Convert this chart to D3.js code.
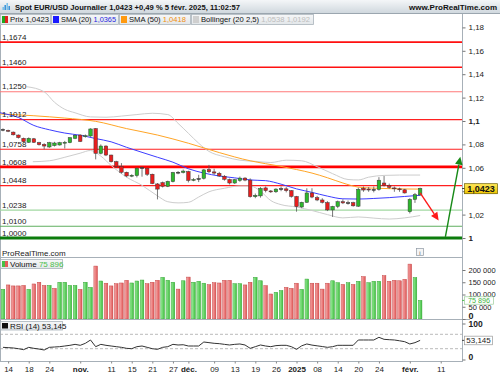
<!DOCTYPE html>
<html><head><meta charset="utf-8">
<script src="https://cdn.jsdelivr.net/npm/d3@7"></script>
<style>
html,body{margin:0;padding:0;background:#fff;}
svg{display:block;font-family:"Liberation Sans",Arial,sans-serif;}
</style></head><body>
<svg id="c" width="500" height="375"></svg>
<script>
// ---------------- DATA ----------------
const dates = ["2024-10-11","2024-10-14","2024-10-15","2024-10-16","2024-10-17","2024-10-18","2024-10-21","2024-10-22","2024-10-23","2024-10-24",
"2024-10-25","2024-10-28","2024-10-29","2024-10-30","2024-10-31","2024-11-01","2024-11-04","2024-11-05","2024-11-06","2024-11-07",
"2024-11-08","2024-11-11","2024-11-12","2024-11-13","2024-11-14","2024-11-15","2024-11-18","2024-11-19","2024-11-20","2024-11-21",
"2024-11-22","2024-11-25","2024-11-26","2024-11-27","2024-11-28","2024-11-29","2024-12-02","2024-12-03","2024-12-04","2024-12-05",
"2024-12-06","2024-12-09","2024-12-10","2024-12-11","2024-12-12","2024-12-13","2024-12-16","2024-12-17","2024-12-18","2024-12-19",
"2024-12-20","2024-12-23","2024-12-24","2024-12-26","2024-12-27","2024-12-30","2024-12-31","2025-01-02","2025-01-03","2025-01-06",
"2025-01-07","2025-01-08","2025-01-09","2025-01-10","2025-01-13","2025-01-14","2025-01-15","2025-01-16","2025-01-17","2025-01-20",
"2025-01-21","2025-01-22","2025-01-23","2025-01-24","2025-01-27","2025-01-28","2025-01-29","2025-01-30","2025-01-31","2025-02-03",
"2025-02-04","2025-02-05","2025-02-06","2025-02-07","2025-02-10","2025-02-11","2025-02-12","2025-02-13","2025-02-14","2025-02-17"];

const open = [1.0925,1.0920,1.0905,1.0880,1.0852,1.0818,1.0848,1.0815,1.0800,1.0778,
1.0790,1.0795,1.0812,1.0815,1.0852,1.0880,1.0866,1.0872,1.0935,1.0724,
1.0786,1.0709,1.0652,1.0612,1.0562,1.0530,1.0534,1.0602,1.0596,1.0545,
1.0462,1.0473,1.0442,1.0482,1.0562,1.0560,1.0568,1.0494,1.0504,1.0510,
1.0585,1.0565,1.0553,1.0528,1.0500,1.0470,1.0492,1.0512,1.0495,1.0353,
1.0360,1.0428,1.0402,1.0395,1.0418,1.0420,1.0405,1.0355,1.0265,1.0305,
1.0385,1.0345,1.0325,1.0303,1.0240,1.0270,1.0310,1.0298,1.0302,1.0272,
1.0425,1.0418,1.0412,1.0415,1.0470,1.0448,1.0428,1.0420,1.0412,1.0225,
1.0330,1.0368];
const high = [1.0937,1.0926,1.0910,1.0885,1.0858,1.0860,1.0855,1.0822,1.0810,1.0822,
1.0822,1.0822,1.0830,1.0862,1.0885,1.0886,1.0885,1.0937,1.0940,1.0800,
1.0792,1.0712,1.0660,1.0640,1.0567,1.0545,1.0605,1.0610,1.0602,1.0550,
1.0470,1.0482,1.0490,1.0565,1.0572,1.0585,1.0575,1.0512,1.0540,1.0590,
1.0625,1.0592,1.0565,1.0538,1.0508,1.0505,1.0525,1.0520,1.0510,1.0380,
1.0435,1.0440,1.0410,1.0425,1.0440,1.0435,1.0410,1.0360,1.0310,1.0425,
1.0425,1.0360,1.0340,1.0315,1.0275,1.0320,1.0330,1.0320,1.0310,1.0430,
1.0440,1.0435,1.0440,1.0520,1.0530,1.0465,1.0440,1.0430,1.0420,1.0340,
1.0385,1.0430];
const low = [1.0912,1.0905,1.0876,1.0850,1.0815,1.0812,1.0812,1.0790,1.0758,1.0770,
1.0782,1.0790,1.0765,1.0810,1.0845,1.0820,1.0858,1.0865,1.0672,1.0715,
1.0700,1.0645,1.0600,1.0550,1.0520,1.0520,1.0518,1.0524,1.0530,1.0460,
1.0330,1.0432,1.0435,1.0475,1.0545,1.0552,1.0475,1.0485,1.0478,1.0500,
1.0555,1.0540,1.0522,1.0490,1.0458,1.0462,1.0480,1.0485,1.0345,1.0340,
1.0345,1.0390,1.0385,1.0385,1.0400,1.0390,1.0345,1.0225,1.0255,1.0300,
1.0340,1.0315,1.0295,1.0230,1.0180,1.0255,1.0290,1.0285,1.0268,1.0265,
1.0395,1.0395,1.0390,1.0405,1.0440,1.0420,1.0395,1.0395,1.0380,1.0210,
1.0300,1.0360];
const close = [1.0928,1.0913,1.0882,1.0858,1.0823,1.0852,1.0818,1.0798,1.0786,1.0815,
1.0812,1.0815,1.0818,1.0857,1.0878,1.0825,1.0874,1.0932,1.0724,1.0786,
1.0709,1.0652,1.0612,1.0562,1.0530,1.0536,1.0596,1.0598,1.0545,1.0465,
1.0418,1.0442,1.0484,1.0560,1.0558,1.0572,1.0492,1.0500,1.0508,1.0582,
1.0566,1.0555,1.0530,1.0502,1.0470,1.0498,1.0512,1.0495,1.0353,1.0365,
1.0424,1.0405,1.0397,1.0418,1.0422,1.0405,1.0355,1.0268,1.0305,1.0385,
1.0350,1.0325,1.0305,1.0240,1.0270,1.0310,1.0300,1.0302,1.0275,1.0416,
1.0410,1.0413,1.0415,1.0494,1.0448,1.0432,1.0422,1.0412,1.0385,1.0330,
1.0370,1.0423];
const volume = [121000,139000,135000,135000,137000,121000,143000,150000,137000,137000,
125000,150000,150000,137000,137000,121000,150000,129000,216000,155000,
146000,135000,144000,147000,158000,147000,155000,159000,144000,150000,
158000,170000,158000,150000,122000,156000,171000,150000,154000,146000,
140000,148000,147000,158000,158000,144000,144000,139000,150000,170000,
156000,136000,102000,109000,116000,129000,125000,146000,121000,163000,
146000,146000,122000,146000,156000,148000,141000,148000,141000,154000,
173000,148000,154000,154000,177000,154000,158000,156000,162000,224000,
169000,75896];
const rsi = [33.8,32.9,32,30,27.3,33.8,31,29,26.4,33.8,
34.7,35.6,37.5,39.4,42.1,39.4,45,54.2,35.6,42.1,
39.4,37.5,35.6,33.8,31,30,35.6,37.5,33.8,30,
28.2,33.8,35.6,42.1,40.3,41,37.5,37.5,37.5,48.6,
46.8,45,44,42.1,40.3,42.1,43.1,40.3,31,35.6,
40.3,37.5,35.6,38.5,39.4,39.4,35.6,28.2,38,43.1,
40,38,36,33.8,35.6,39.4,39.4,39.4,39.4,54.2,
54.2,54.2,54.2,61.6,56,55,54.2,52,49.5,43.1,
46.8,53.145];

// indicator lines (bar index, value)
const sma20Idx = [-0.6,0,3,6,9,12,15,18,21,24,27,30,33,36,39,42,45,48,51,54,57,60,63,66,69,72,75,78,81];
const sma20 = [1.1071,1.1065,1.1030,1.0962,1.0925,1.0897,1.0878,1.0850,1.0822,1.0775,1.0732,1.0690,1.0648,1.0592,1.0555,1.0530,1.0514,1.0496,1.0490,1.0460,1.0420,1.0390,1.0358,1.0335,1.0333,1.0338,1.0345,1.0355,1.0365];
const sma50Idx = [-0.6,6,12,18,24,30,36,42,48,51,54,57,60,63,66,69,72,75,78,81];
const sma50 = [1.1060,1.1045,1.1025,1.0997,1.0935,1.0880,1.0810,1.0730,1.0660,1.0635,1.0612,1.0585,1.0555,1.0515,1.0470,1.0435,1.0426,1.0422,1.0419,1.0418];
const bbUpIdx = [4.6,8,10,12,14,17,20,23,26,29,32,34,36,38,40,43,46,49,52,55,58,61,64,67,69,71,74,77,81];
const bbUp = [1.1293,1.1250,1.1160,1.1100,1.1070,1.1035,1.1032,1.1042,1.1055,1.1066,1.1055,1.0980,1.0895,1.0810,1.0740,1.0695,1.0665,1.0655,1.0645,1.0665,1.0660,1.0610,1.0550,1.0500,1.0496,1.0520,1.0535,1.0538,1.0538];
const bbLoIdx = [5.8,9,12,15,17,19,21,24,27,30,32,34,36,38,40,43,46,48,50,52,54,57,60,63,66,69,72,75,78,81];
const bbLo = [1.0652,1.0660,1.0690,1.0725,1.0748,1.0700,1.0620,1.0520,1.0450,1.0360,1.0310,1.0300,1.0305,1.0350,1.0395,1.0425,1.0445,1.0445,1.0400,1.0320,1.0285,1.0265,1.0235,1.0200,1.0172,1.0180,1.0170,1.0162,1.0172,1.0192];

// horizontal levels
const levelValues = [1.1674,1.1460,1.1250,1.1012,1.0758,1.0608,1.0448,1.0238,1.0100,1.0000];
const levelLabels = ["1,1674","1,1460","1,1250","1,1012","1,0758","1,0608","1,0448","1,0238","1,0100","1,0000"];
const levelKinds = ["resStrong","resStrong","resLight","res","res","resKey","res","supLight","sup","supKey"];

// arrows drawn on the chart (bar index, price)
const arrowFrom = [[81,1.0385],[85.9,1.0010]];
const arrowTo = [[84.6,1.0150],[88.8,1.0695]];
const arrowKinds = ["down","up"];

// axes
const priceTicks = [1.18,1.16,1.14,1.12,1.1,1.08,1.06,1.04,1.02,1];
const priceTickLabels = ["1,18","1,16","1,14","1,12","1,1","1,08","1,06","1,04","1,02","1"];
const volTicks = [200000,150000,100000,50000,0];
const volTickLabels = ["200 000","150 000","100 000","50 000","0"];
const rsiTicks = [100,0];
const rsiGuides = [70,30];
const xTickDates = ["2024-10-14","2024-10-18","2024-10-24","2024-11-01","2024-11-11","2024-11-15","2024-11-21","2024-11-27","2024-12-02","2024-12-09","2024-12-13","2024-12-19","2024-12-26","2025-01-02","2025-01-08","2025-01-14","2025-01-20","2025-01-24","2025-02-03","2025-02-11"];
const xTickLabels = ["14","18","24","nov.","11","15","21","27","déc.","09","13","19","26","2025","08","14","20","24","févr.","11"];
const xTickMajor = [false,false,false,true,false,false,false,false,true,false,false,false,false,true,false,false,false,false,true,false];

// header texts
const titleText = "Spot EUR/USD Journalier 1,0423 +0,49 % 5 févr. 2025, 11:02:57";
const lastPrice = "1,0423", lastVolume = "75 896", lastRsi = "53,145";
const sma20Last = "1,0365", sma50Last = "1,0418", bbLast = "1,0538 1,0192";

// ---------------- DRAW ----------------
const svg = d3.select("#c");
const PR = 462;
const x = d3.scaleLinear().domain([-0.5, 89.5]).range([0.4, 463.9]);
const y = d3.scaleLinear().domain([1, 1.18]).range([238, 27.4]);
const yV = d3.scaleLinear().domain([0, 200000]).range([319, 270]);
const yR = d3.scaleLinear().domain([0, 100]).range([359.5, 323.5]);
const idxOf = d => dates.indexOf(d);

const defs = svg.append("defs");
function grad(id, c1, c2, horiz){
  const g = defs.append("linearGradient").attr("id",id).attr("x1",0).attr("y1",0).attr("x2",horiz?1:0).attr("y2",horiz?0:1);
  g.append("stop").attr("offset",0).attr("stop-color",c1);
  g.append("stop").attr("offset",1).attr("stop-color",c2);
}
grad("hdr","#f4f6f8","#d0d8de");
grad("leg","#f6f7f8","#e2e6e9");
grad("yel","#ffe95a","#eec400");
grad("vg","#9cec9c","#3fbf3f",true);
grad("vr","#f7a8a8","#de5656",true);
function clip(id,x0,y0,w,h){defs.append("clipPath").attr("id",id).append("rect").attr("x",x0).attr("y",y0).attr("width",w).attr("height",h);}
clip("cp",0,25,PR,232);
clip("cv",0,258,PR,61);
clip("cr",0,320,PR,41);

// header
svg.append("rect").attr("x",0).attr("y",0).attr("width",500).attr("height",13).attr("fill","url(#hdr)");
svg.append("line").attr("x1",0).attr("x2",500).attr("y1",13.5).attr("y2",13.5).attr("stroke","#9ba6af");
const icon = svg.append("g");
[[2.5,7],[4.5,5],[6.5,3],[8.5,6]].forEach(([ix,iy],k)=>{
  icon.append("rect").attr("x",ix).attr("y",iy).attr("width",1.4).attr("height",10-iy).attr("fill",k%2?"#2a8ad8":"#6fbbe8");
});
svg.append("text").attr("x",15).attr("y",9.6).attr("font-size",8).attr("font-weight","bold").attr("fill","#111")
  .attr("textLength",225).attr("lengthAdjust","spacingAndGlyphs").text(titleText);
svg.append("text").attr("x",497).attr("y",9.6).attr("font-size",8).attr("font-weight","bold").attr("fill","#111")
  .attr("text-anchor","end").text("www.ProRealTime.com");

// legend row
const legItems = [
  {x:0,w:50,tl:39,icon:"pr",parts:[["Prix "+lastPrice,"#111"]]},
  {x:51,w:67,tl:55,icon:"#1a1aff",parts:[["SMA (20) ","#111"],[sma20Last,"#2525e0"]]},
  {x:119,w:71,tl:57,icon:"#ff9a10",parts:[["SMA (50) ","#111"],[sma50Last,"#f09010"]]},
  {x:191,w:122,tl:109,icon:"#cfcfcf",parts:[["Bollinger (20 2,5) ","#111"],[bbLast,"#bdbdbd"]]}
];
legItems.forEach(it=>{
  const g = svg.append("g");
  g.append("rect").attr("x",it.x+0.5).attr("y",14.5).attr("width",it.w).attr("height",10).attr("fill","url(#leg)").attr("stroke","#aab3bb").attr("stroke-width",0.8);
  if(it.icon==="pr"){
    g.append("rect").attr("x",it.x+2).attr("y",16).attr("width",3).attr("height",7).attr("fill","#1fa81f");
    g.append("rect").attr("x",it.x+5).attr("y",16).attr("width",3).attr("height",7).attr("fill","#e02020");
  } else {
    g.append("rect").attr("x",it.x+2).attr("y",16).attr("width",6).attr("height",7).attr("fill",it.icon);
  }
  const t = g.append("text").attr("x",it.x+10).attr("y",22).attr("font-size",8)
    .attr("textLength",it.tl).attr("lengthAdjust","spacingAndGlyphs");
  it.parts.forEach(p=>t.append("tspan").attr("fill",p[1]).text(p[0]));
});

// frame lines
const frame = svg.append("g").attr("stroke","#a7b0b8").attr("stroke-width",1);
frame.append("line").attr("x1",0.5).attr("x2",0.5).attr("y1",25).attr("y2",362);
frame.append("line").attr("x1",PR+0.5).attr("x2",PR+0.5).attr("y1",14).attr("y2",362);
frame.append("line").attr("x1",0).attr("x2",PR).attr("y1",257.5).attr("y2",257.5);
frame.append("line").attr("x1",0).attr("x2",PR+8).attr("y1",319.5).attr("y2",319.5);
frame.append("line").attr("x1",0).attr("x2",PR).attr("y1",361.5).attr("y2",361.5);

// ---- price panel
const pg = svg.append("g").attr("clip-path","url(#cp)");
const levelStyle = {
  resStrong:{c:"#ff1010",w:1.6}, res:{c:"#ff2020",w:1.1}, resLight:{c:"#ff7a7a",w:1},
  resKey:{c:"#ff0000",w:2.6}, supLight:{c:"#a2d8a2",w:1.4}, sup:{c:"#5faf5f",w:1.1}, supKey:{c:"#0c7c0c",w:3}
};
pg.selectAll("line.lvl").data(levelValues).join("line").attr("class","lvl")
  .attr("x1",0).attr("x2",PR).attr("y1",d=>y(d)).attr("y2",d=>y(d))
  .attr("stroke",(d,i)=>levelStyle[levelKinds[i]].c).attr("stroke-width",(d,i)=>levelStyle[levelKinds[i]].w);

function drawLine(idx, vals, color, w){
  pg.append("path").datum(idx.map((v,i)=>[v,vals[i]]))
    .attr("fill","none").attr("stroke",color).attr("stroke-width",w)
    .attr("d", d3.line().x(d=>x(d[0])).y(d=>y(d[1])).curve(d3.curveMonotoneX));
}
drawLine(bbUpIdx, bbUp, "#cdcdcd", 1);
drawLine(bbLoIdx, bbLo, "#cdcdcd", 1);
drawLine(sma50Idx, sma50, "#ffa526", 1);
drawLine(sma20Idx, sma20, "#3d3dff", 1);

const bars = close.map((c,i)=>({i,o:open[i],h:high[i],l:low[i],c}));
pg.selectAll("line.wick").data(bars).join("line").attr("class","wick")
  .attr("x1",d=>x(d.i)).attr("x2",d=>x(d.i)).attr("y1",d=>y(d.h)).attr("y2",d=>y(d.l))
  .attr("stroke","#555").attr("stroke-width",0.8);
pg.selectAll("rect.body").data(bars).join("rect").attr("class","body")
  .attr("x",d=>x(d.i)-1.75).attr("width",3.5)
  .attr("y",d=>y(Math.max(d.o,d.c)))
  .attr("height",d=>Math.max(0.9, Math.abs(y(d.o)-y(d.c))))
  .attr("fill",d=>Math.abs(d.c-d.o)<0.0004 ? "#333" : (d.c>=d.o?"#2cb82c":"#e81e1e"))
  .attr("stroke","#3a3a3a").attr("stroke-width",0.5);

// arrows
const arrowColor = {down:"#ff1a1a", up:"#178a17"};
arrowFrom.forEach((f,k)=>{
  const x1=x(f[0]), y1=y(f[1]), x2=x(arrowTo[k][0]), y2=y(arrowTo[k][1]);
  const a=Math.atan2(y2-y1,x2-x1), L=8, W=3.8, col=arrowColor[arrowKinds[k]];
  const bx=x2-L*Math.cos(a), by=y2-L*Math.sin(a);
  svg.append("line").attr("x1",x1).attr("y1",y1).attr("x2",bx).attr("y2",by).attr("stroke",col).attr("stroke-width",1.4);
  const px=-Math.sin(a)*W, py=Math.cos(a)*W;
  svg.append("path").attr("d",`M${x2},${y2}L${bx+px},${by+py}L${bx-px},${by-py}Z`).attr("fill",col);
});

// level labels
svg.selectAll("text.lvlLab").data(levelValues).join("text").attr("class","lvlLab")
  .attr("x",2).attr("y",d=>y(d)-2.3).attr("font-size",8).attr("fill","#1a1a1a").text((d,i)=>levelLabels[i]);

// price axis (a label covered by the last-price box is not shown, as in the reference)
const lpY = y(close[close.length-1]);
const pa = svg.append("g").attr("transform",`translate(${PR+0.5},0)`)
  .call(d3.axisRight(y).tickValues(priceTicks).tickSize(3)
    .tickFormat((d,i)=> Math.abs(y(d)-lpY) < 7 ? "" : priceTickLabels[i]));
pa.select(".domain").remove();
pa.selectAll("line").attr("stroke","#777");
pa.selectAll("text").attr("font-size",8).attr("fill","#222").attr("font-family","'Liberation Sans',Arial,sans-serif")
  .attr("font-weight",(d,i)=>priceTickLabels[i].length<=3?"bold":"normal");

// last price box
svg.append("line").attr("x1",PR).attr("x2",465).attr("y1",lpY).attr("y2",lpY).attr("stroke","#444");
svg.append("rect").attr("x",464.5).attr("y",lpY-4.8).attr("width",33).attr("height",10).attr("fill","url(#yel)").attr("stroke","#6b5d00").attr("stroke-width",0.7);
svg.append("text").attr("x",481).attr("y",lpY+3.3).attr("text-anchor","middle").attr("font-size",9).attr("font-weight","bold").attr("fill","#111").text(lastPrice);

svg.append("text").attr("x",2).attr("y",255.8).attr("font-size",8).attr("fill","#222").text("ProRealTime.com");
svg.append("rect").attr("x",416.5).attr("y",248.5).attr("width",7).attr("height",7).attr("fill","#f5f5f5").attr("stroke","#8d98a3").attr("stroke-width",0.7);
svg.append("text").attr("x",420).attr("y",254.5).attr("text-anchor","middle").attr("font-size",6).attr("fill","#555").text("i");

// ---- volume panel
const vg = svg.append("g").attr("clip-path","url(#cv)");
const volUp = volume.map((v,i)=> i===0 ? close[0]>=open[0] : close[i]>=close[i-1]);
vg.selectAll("rect.vol").data(volume).join("rect").attr("class","vol")
  .attr("x",(d,i)=>x(i)-1.8).attr("width",3.6).attr("y",d=>yV(d)).attr("height",d=>yV(0)-yV(d))
  .attr("fill",(d,i)=>volUp[i]?"url(#vg)":"url(#vr)")
  .attr("stroke",(d,i)=>volUp[i]?"#35a535":"#c64848").attr("stroke-width",0.5);

const va = svg.append("g").attr("transform",`translate(${PR+0.5},0)`)
  .call(d3.axisRight(yV).tickValues(volTicks).tickSize(3).tickFormat((d,i)=>volTickLabels[i]));
va.select(".domain").remove();
va.selectAll("line").attr("stroke","#777");
va.selectAll("text").attr("fill","#222").attr("font-family","'Liberation Sans',Arial,sans-serif")
  .attr("font-weight",d=>d===0?"bold":"normal").attr("font-size",d=>d===0?9:7.5)
  .attr("dy",d=>d===0?"-0.1em":"0.32em");

const lvY = yV(volume[volume.length-1]);
svg.append("line").attr("x1",PR).attr("x2",465).attr("y1",lvY).attr("y2",lvY).attr("stroke","#4cbc4c");
svg.append("rect").attr("x",464.5).attr("y",lvY-3.6).attr("width",29).attr("height",7.4).attr("fill","#fff").attr("stroke","#9ccf9c").attr("stroke-width",0.7);
svg.append("text").attr("x",479).attr("y",lvY+2.6).attr("text-anchor","middle").attr("font-size",7.2).attr("fill","#3cb43c").text(lastVolume);

// volume legend
const vl = svg.append("g");
vl.append("rect").attr("x",0.5).attr("y",259.5).attr("width",62).attr("height",9).attr("fill","url(#leg)").attr("stroke","#aab3bb").attr("stroke-width",0.8);
vl.append("rect").attr("x",2).attr("y",261).attr("width",3).attr("height",6).attr("fill","#46c046");
vl.append("rect").attr("x",5).attr("y",261).attr("width",3).attr("height",6).attr("fill","#e45a5a");
const vlt = vl.append("text").attr("x",10).attr("y",266.8).attr("font-size",8);
vlt.append("tspan").attr("fill","#111").text("Volume ");
vlt.append("tspan").attr("fill","#4cc04c").text(lastVolume);

// ---- RSI panel
const rg = svg.append("g").attr("clip-path","url(#cr)");
rg.selectAll("line.guide").data(rsiGuides).join("line").attr("class","guide")
  .attr("x1",0).attr("x2",PR).attr("y1",d=>yR(d)).attr("y2",d=>yR(d))
  .attr("stroke","#a8a8a8").attr("stroke-width",0.8).attr("stroke-dasharray","3,2");
rg.append("path").datum(rsi).attr("fill","none").attr("stroke","#333").attr("stroke-width",1)
  .attr("d", d3.line().x((d,i)=>x(i)).y(d=>yR(d)));

const ra = svg.append("g").attr("transform",`translate(${PR+0.5},0)`)
  .call(d3.axisRight(yR).tickValues(rsiTicks).tickSize(3));
ra.select(".domain").remove();
ra.selectAll("line").attr("stroke","#777");
ra.selectAll("text").attr("font-size",8.5).attr("font-weight","bold").attr("fill","#222").attr("font-family","'Liberation Sans',Arial,sans-serif")
  .attr("dy",d=>d===0?"0.05em":"0.32em");

const lrY = yR(rsi[rsi.length-1]);
svg.append("line").attr("x1",PR).attr("x2",465).attr("y1",lrY).attr("y2",lrY).attr("stroke","#444");
svg.append("rect").attr("x",464.5).attr("y",lrY-4.2).attr("width",28).attr("height",8.6).attr("fill","#fff").attr("stroke","#999").attr("stroke-width",0.7);
svg.append("text").attr("x",478.5).attr("y",lrY+3).attr("text-anchor","middle").attr("font-size",8).attr("fill","#222").text(lastRsi);

const rl = svg.append("g");
rl.append("rect").attr("x",0.5).attr("y",321.5).attr("width",62).attr("height",8.5).attr("fill","url(#leg)").attr("stroke","#aab3bb").attr("stroke-width",0.8);
rl.append("rect").attr("x",2).attr("y",323).attr("width",6).attr("height",5.5).attr("fill","#111");
rl.append("text").attr("x",10).attr("y",328.6).attr("font-size",8).attr("fill","#111").text("RSI (14) "+lastRsi);

// ---- x axis
const xa = svg.append("g").attr("transform","translate(0,361.5)")
  .call(d3.axisBottom(x).tickValues(xTickDates.map(idxOf)).tickSize(2).tickFormat((d,i)=>xTickLabels[i]));
xa.select(".domain").remove();
xa.selectAll("line").attr("stroke","#888");
xa.selectAll("text").attr("font-size",8).attr("fill","#222").attr("font-family","'Liberation Sans',Arial,sans-serif")
  .attr("font-weight",(d,i)=>xTickMajor[i]?"bold":"normal");
</script>
</body></html>
